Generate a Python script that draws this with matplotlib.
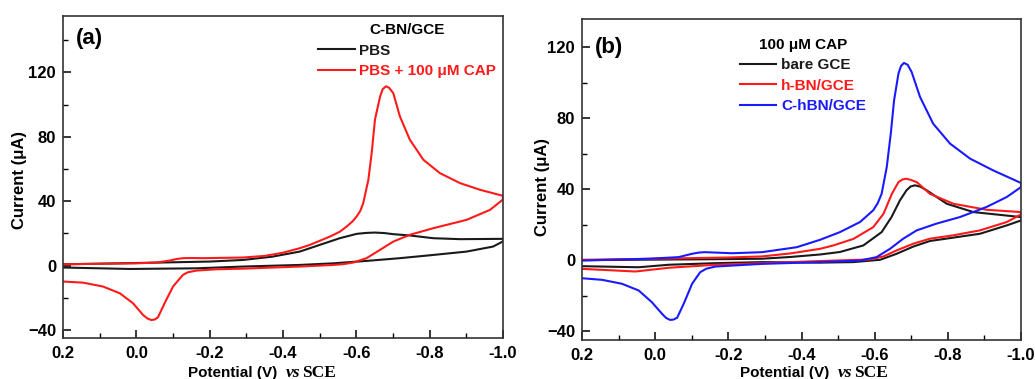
import numpy as np
import matplotlib.pyplot as plt
from matplotlib.ticker import MultipleLocator

# ---- panel (a): C-BN/GCE, forward (cathodic) and reverse branches ----
a_pbs_fwd_v = [0.2, 0.0, -0.2, -0.291, -0.37, -0.446, -0.501, -0.555, -0.601, -0.628, -0.651,
               -0.676, -0.701, -0.746, -0.81, -0.883, -1.0]
a_pbs_fwd_i = [0.8, 1.6, 2.5, 3.5, 5.5, 8.7, 12.9, 17, 19.7, 20.3, 20.5,
               20.2, 19.5, 18.7, 17, 16.4, 16.6]
a_pbs_rev_v = [-1.0, -0.985, -0.973, -0.901, -0.81, -0.719, -0.628, -0.537, -0.446, -0.291,
               -0.164, 0.018, 0.2]
a_pbs_rev_i = [15, 13.2, 11.8, 8.7, 6.6, 4.6, 2.9, 1.4, 0.4, -0.6,
               -1.7, -2.1, -1.2]

a_cap_fwd_v = [0.2, 0.0, -0.055, -0.091, -0.11, -0.127, -0.15, -0.182, -0.291, -0.35, -0.4,
               -0.446, -0.474, -0.528, -0.555, -0.574, -0.59, -0.601, -0.611, -0.619, -0.633,
               -0.642, -0.651, -0.665, -0.672, -0.681, -0.69, -0.701, -0.719, -0.746,
               -0.783, -0.828, -0.883, -0.937, -1.0]
a_cap_fwd_i = [0.8, 1.4, 1.9, 3.1, 4.1, 4.6, 4.7, 4.6, 5.0, 6.0, 8.0,
               10.8, 12.9, 18, 21, 24.3, 27.5, 30.5, 34, 38.8, 53.3,
               69.9, 90.6, 105, 109.5, 111.3, 110.3, 107, 92.6, 78.2,
               65.7, 57.4, 51.2, 47.1, 43.3]
a_cap_rev_v = [-1.0, -0.965, -0.901, -0.81, -0.746, -0.701, -0.665, -0.628, -0.592, -0.565,
               -0.537, -0.446, -0.291, -0.218, -0.164, -0.14, -0.127, -0.1, -0.077, -0.059,
               -0.05, -0.041, -0.03, -0.018, 0.009, 0.045, 0.091, 0.145, 0.2]
a_cap_rev_i = [41, 34.6, 28.4, 23.2, 19.1, 14.9, 9.8, 4.6, 1.9, 0.9,
               0.4, -0.6, -1.9, -2.3, -3.1, -4.2, -5.8, -13, -23.4, -32.1,
               -33.5, -33.8, -32.8, -30.6, -23.4, -17.2, -13, -10.6, -9.9]

# ---- panel (b): 100 uM CAP on three electrodes ----
b_bare_fwd_v = [0.2, 0.0, -0.2, -0.292, -0.37, -0.451, -0.505, -0.569, -0.619, -0.646, -0.669,
                -0.687, -0.698, -0.71, -0.724, -0.742, -0.797, -0.87, -1.0]
b_bare_fwd_i = [0.0, 0.3, 0.6, 0.8, 1.8, 3.2, 4.6, 8.3, 15.8, 24.3, 33.7,
                39.4, 41.5, 42.2, 41.5, 39.4, 31.8, 27.1, 24.3]
b_bare_rev_v = [-1.0, -0.961, -0.888, -0.815, -0.751, -0.706, -0.66, -0.615, -0.542,
                -0.451, -0.292, -0.165, -0.037, 0.045, 0.2]
b_bare_rev_i = [22.4, 19.6, 14.9, 12.7, 10.8, 7.7, 3.6, 0.2, -1.1,
                -1.4, -1.1, -1.7, -2.6, -4, -3.4]

b_hbn_fwd_v = [0.2, 0.0, -0.2, -0.292, -0.37, -0.451, -0.487, -0.542, -0.596, -0.624, -0.647,
               -0.665, -0.676, -0.686, -0.698, -0.715, -0.751, -0.815, -0.906, -1.0]
b_hbn_fwd_i = [0.2, 0.8, 1.5, 2.1, 3.8, 6.4, 8.3, 12, 18.6, 26.1, 37.4,
               44, 45.5, 45.9, 45.3, 44, 37.4, 31.8, 28.4, 27.1]
b_hbn_rev_v = [-1.0, -0.961, -0.888, -0.815, -0.751, -0.706, -0.66, -0.624, -0.587,
               -0.451, -0.292, -0.165, -0.037, 0.054, 0.2]
b_hbn_rev_i = [25.8, 21.5, 16.8, 14, 12.1, 9.3, 5.5, 2.1, 0.4,
               -0.5, -1.7, -2.6, -4.3, -6.4, -4.9]

b_chbn_fwd_v = [0.2, 0.018, -0.064, -0.101, -0.12, -0.137, -0.21, -0.292, -0.387, -0.451, -0.505,
                -0.56, -0.596, -0.608, -0.619, -0.633, -0.644, -0.653, -0.665, -0.672, -0.68,
                -0.69, -0.701, -0.724, -0.76, -0.806, -0.861, -0.924, -1.0]
b_chbn_fwd_i = [-0.2, 0.8, 1.7, 3.6, 4.3, 4.5, 3.9, 4.5, 7.3, 11.5, 15.8,
                21.5, 28.1, 32, 37.4, 52.5, 71.3, 90.1, 105.2, 109.5, 111.2,
                110.2, 106.1, 92, 76.9, 65.7, 57.2, 50.6, 43.5]
b_chbn_rev_v = [-1.0, -0.961, -0.906, -0.833, -0.769, -0.715, -0.678, -0.642, -0.605,
                -0.56, -0.451, -0.292, -0.165, -0.14, -0.123, -0.101, -0.078, -0.06, -0.05,
                -0.041, -0.03, -0.019, 0.009, 0.045, 0.091, 0.145, 0.2]
b_chbn_rev_i = [41.2, 35.6, 30, 24.3, 20.6, 16.8, 12.1, 6.4, 1.7,
                -0.2, -1.1, -2.1, -3.6, -4.8, -6.8, -13.3, -24.6, -32.5, -33.5,
                -33.7, -32.6, -30.3, -23.7, -17.1, -13.3, -11.1, -10.2]

plt.rcParams['font.family'] = ['Liberation Sans', 'DejaVu Sans']
plt.rcParams['font.weight'] = 'bold'

fig = plt.figure(figsize=(10.35, 3.79), dpi=100)
ax1 = fig.add_axes([0.0609, 0.108, 0.425, 0.850])
ax2 = fig.add_axes([0.5623, 0.103, 0.4242, 0.847])

lw = 1.5


def cv(ax, fv, fi, rv, ri, color, label):
    v = np.concatenate([fv, rv])
    i = np.concatenate([fi, ri])
    ax.plot(v, i, color=color, lw=lw, label=label, solid_joinstyle='round')


cv(ax1, a_pbs_fwd_v, a_pbs_fwd_i, a_pbs_rev_v, a_pbs_rev_i, '#1a1a1a', 'PBS')
cv(ax1, a_cap_fwd_v, a_cap_fwd_i, a_cap_rev_v, a_cap_rev_i, '#ff1a1a', 'PBS + 100 \u03bcM CAP')

cv(ax2, b_bare_fwd_v, b_bare_fwd_i, b_bare_rev_v, b_bare_rev_i, '#1a1a1a', 'bare GCE')
cv(ax2, b_hbn_fwd_v, b_hbn_fwd_i, b_hbn_rev_v, b_hbn_rev_i, '#ff1a1a', 'h-BN/GCE')
cv(ax2, b_chbn_fwd_v, b_chbn_fwd_i, b_chbn_rev_v, b_chbn_rev_i, '#1a1aff', 'C-hBN/GCE')

ax1.set_ylim(-45, 155)
ax2.set_ylim(-45, 136)

for ax in (ax1, ax2):
    ax.set_xlim(0.2, -1.0)
    ax.xaxis.set_major_locator(MultipleLocator(0.2))
    ax.xaxis.set_minor_locator(MultipleLocator(0.1))
    ax.yaxis.set_major_locator(MultipleLocator(40))
    ax.yaxis.set_minor_locator(MultipleLocator(20))
    ax.xaxis.set_major_formatter(plt.FuncFormatter(lambda x, p: '%.1f' % x if abs(x) > 1e-9 else '0.0'))
    ax.tick_params(which='major', direction='in', length=6, width=1.1, labelsize=12, pad=5)
    ax.tick_params(which='minor', direction='in', length=3.5, width=1.0)
    ax.tick_params(axis='x', pad=6)
    for s in ax.spines.values():
        s.set_linewidth(1.2)
        s.set_color('#333333')
    for lab in ax.get_xticklabels() + ax.get_yticklabels():
        lab.set_fontweight('bold')

ax1.text(0.03, 0.93, '(a)', transform=ax1.transAxes, fontsize=16, fontweight='bold', va='center')
ax2.text(0.03, 0.91, '(b)', transform=ax2.transAxes, fontsize=16, fontweight='bold', va='center')

leg1 = ax1.legend(title='C-BN/GCE', loc='upper left', bbox_to_anchor=(0.555, 1.01), frameon=False,
                  fontsize=11, title_fontproperties={'weight': 'bold', 'size': 11},
                  handlelength=2.4, handletextpad=0.3, labelspacing=0.42, labelcolor='linecolor',
                  borderaxespad=0.3)
leg2 = ax2.legend(title='100 \u03bcM CAP', loc='upper left', bbox_to_anchor=(0.335, 0.975), frameon=False,
                  fontsize=11, title_fontproperties={'weight': 'bold', 'size': 11},
                  handlelength=2.4, handletextpad=0.3, labelspacing=0.42, labelcolor='linecolor',
                  borderaxespad=0.3)
for leg in (leg1, leg2):
    for t in leg.get_texts():
        t.set_fontweight('bold')

# y labels
fig.text(20 / 1035, 1 - 180 / 379, 'Current (\u03bcA)', rotation=90, ha='center', va='center',
         fontsize=12, fontweight='bold')
fig.text(543 / 1035, 1 - 187 / 379, 'Current (\u03bcA)', rotation=90, ha='center', va='center',
         fontsize=12, fontweight='bold')

# x labels
for x0 in (188, 740):
    fig.text(x0 / 1035, 1 - 373 / 379, 'Potential (V)', ha='left', va='center',
             fontsize=11, fontweight='bold')
    fig.text((x0 + 98) / 1035, 1 - 373 / 379, 'vs', ha='left', va='center', fontsize=12.5,
             family='Liberation Serif', style='italic', fontweight='bold')
    fig.text((x0 + 114) / 1035, 1 - 373 / 379, 'SCE', ha='left', va='center', fontsize=12.5,
             family='Liberation Serif', fontweight='bold')

fig.savefig('out.png', dpi=100)
